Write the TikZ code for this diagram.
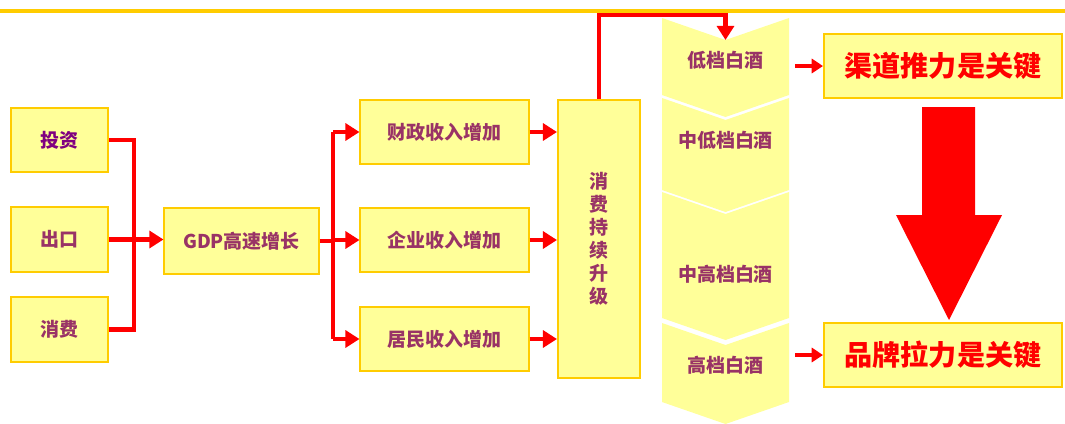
\documentclass[tikz,border=0pt]{standalone}
\usepackage{fontspec}
\newfontfamily\cjk{Noto Sans CJK SC}
\usetikzlibrary{arrows.meta,calc}
\definecolor{boxfill}{HTML}{FFFF99}
\definecolor{boxline}{HTML}{FFCC00}
\definecolor{txt}{HTML}{993366}
\definecolor{txtp}{HTML}{800080}
\tikzstyle{every node}=[font=\cjk\fontsize{13.5}{16.3}\selectfont\bfseries, text=txt]
\tikzstyle{box}=[draw=boxline, fill=boxfill, line width=1.4pt, inner sep=0pt]
\tikzstyle{lbox}=[box, minimum width=2.43cm, minimum height=1.62cm]
\tikzstyle{mbox}=[box, minimum width=4.2cm, minimum height=1.62cm]
\tikzstyle{rbox}=[box, minimum width=5.95cm, minimum height=1.6cm, text=red, font=\cjk\fontsize{20}{24}\selectfont\bfseries]
\tikzstyle{rline}=[red, line width=3.5pt, line join=miter]
\tikzstyle{rarrow}=[rline, -{Triangle[length=10pt,width=12pt]}]
\tikzstyle{sarrow}=[red, line width=2.8pt, -{Triangle[length=8pt,width=10pt]}]

\begin{document}
\begin{tikzpicture}[x=0.025cm,y=-0.025cm]
\useasboundingbox (0,0) rectangle (1065,423);
\draw[boxline, line width=2.2pt] (0,11) -- (1065,11);

% drivers
\node[lbox, text=txtp] (inv) at (59.5,140) {投资};
\node[lbox] (exp) at (59.5,239.5) {出口};
\node[lbox] (con) at (59.5,329.5) {消费};
\node[box, minimum width=3.85cm, minimum height=1.65cm] (gdp) at (241.5,241) {GDP高速增长};
\coordinate (bl) at (134,0);
\draw[rline] (inv.east) -- (inv.east -| bl) -- (con.east -| bl) -- (con.east);
\draw[rarrow] (exp.east) -- (exp.east -| gdp.west);

% incomes
\node[mbox] (fis) at (444.5,132) {财政收入增加};
\node[mbox] (ent) at (444.5,240) {企业收入增加};
\node[mbox] (res) at (444.5,339) {居民收入增加};
\coordinate (br) at (333,0);
\draw[rline] (gdp.east) -- (gdp.east -| br);
\draw[rline] (br |- fis.west) -- (br |- res.west);
\foreach \n in {fis,ent,res}
  \draw[rarrow] (br |- \n.west) -- (\n.west);

% upgrade
\node[box, minimum width=2.05cm, minimum height=6.95cm, align=center] (up) at (599,239) {消\\费\\持\\续\\升\\级};
\foreach \n in {fis,ent,res}
  \draw[rarrow] (\n.east) -- (\n.east -| up.west);

% tiers
\foreach \t/\b in {18/95,98/190,192/318,323/402}
  \fill[boxfill] (662,\t) -- (725.5,\t+22) -- (789,\t) -- (789,\b) -- (725.5,\b+22) -- (662,\b) -- cycle;
\node (c1) at (725.5,60) {低档白酒};
\node (c2) at (725.5,140) {中低档白酒};
\node (c3) at (725.5,274) {中高档白酒};
\node (c4) at (725.5,365) {高档白酒};
\coordinate (notch) at (725.5,40);
\draw[rarrow] (up.north) -- (up.north |- 0,15) -| (notch);

% keys
\node[rbox] (push) at (943,66) {渠道推力是关键};
\node[rbox] (pull) at (943,355) {品牌拉力是关键};
\coordinate (t1) at (795,66);
\coordinate (t4) at (795,355);
\draw[sarrow] (t1) -- (push.west);
\draw[sarrow] (t4) -- (pull.west);
\fill[red] (922,107) -- (975,107) -- (975,215) -- (1002,215) -- (949,320) -- (896,215) -- (922,215) -- cycle;
\end{tikzpicture}
\end{document}
